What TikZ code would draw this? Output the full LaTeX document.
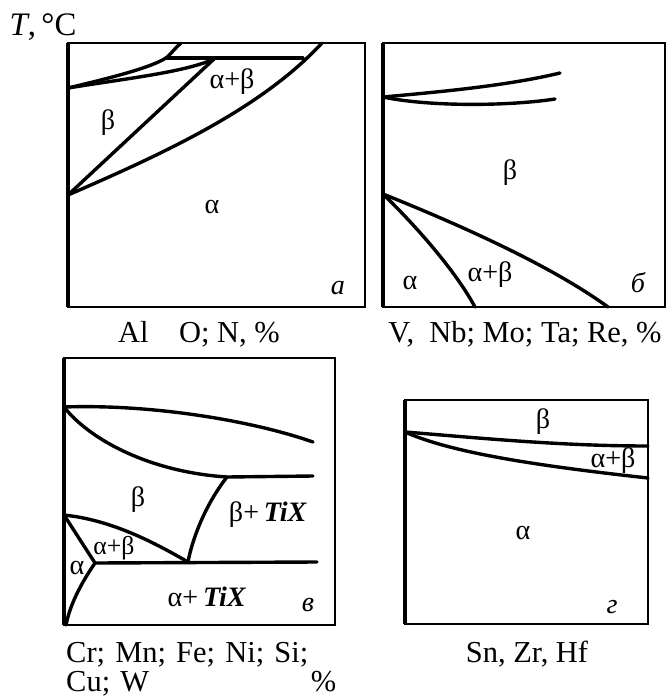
\documentclass[tikz,border=0pt]{standalone}
\usepackage{fontspec}
\setmainfont{Liberation Serif}
\usetikzlibrary{calc}

\begin{document}
\begin{tikzpicture}[
    x=0.03cm, y=-0.03cm,
    frame/.style={line width=2pt},
    axisline/.style={line width=3.4pt},
    phase/.style={line width=2.9pt, line cap=round, line join=round},
    lbl/.style={inner sep=0pt, font=\fontsize{24}{28}\selectfont},
    letter/.style={inner sep=0pt, font=\fontsize{24}{28}\selectfont\itshape},
    captxt/.style={inner sep=0pt, font=\fontsize{26}{23}\selectfont}
  ]
    \useasboundingbox (0,0) rectangle (672,697);

    % panel a
    \draw[frame] (68,43) rectangle (365,307);
    \draw[axisline] (68,43) -- (68,307);
    \coordinate (a1) at (68,88);
    \coordinate (a2) at (166,58);
    \coordinate (a3) at (214,59);
    \coordinate (a4) at (68,195);
    \coordinate (a5) at (303,58);
    \draw[phase] (a1) .. controls (110,78) and (150,68) .. (a2)
                      .. controls (172,53) and (176,47) .. (181,43);
    \draw[phase] (a2) -- (a5);
    \draw[phase] (a1) .. controls (130,78) and (185,72) .. (a3);
    \draw[phase] (a3) -- (a4);
    \draw[phase] (a4) .. controls (160,155) and (260,110) .. (322,43);
    \node[lbl] (ab) at (232,82) {α+β};
    \node[lbl] (b) at (108,123) {β};
    \node[lbl] (al) at (212,207) {α};
    \node[letter] (la) at (338,288) {а};
    \node[captxt] (ca) at (199,334) {Al\quad O; N, \%};
    \node[captxt, font=\fontsize{28}{30}\selectfont] (temp) at (43,27) {\textit{T},\,°C};

    % panel b
    \draw[frame] (383,43) rectangle (665,307);
    \draw[axisline] (383,43) -- (383,307);
    \coordinate (b1) at (383,97);
    \coordinate (b2) at (383,194);
    \draw[phase] (b1) .. controls (450,91) and (510,85) .. (560,73);
    \draw[phase] (b1) .. controls (430,107) and (510,106) .. (555,99);
    \draw[phase] (b2) .. controls (415,225) and (455,270) .. (475,307);
    \draw[phase] (b2) .. controls (460,225) and (550,265) .. (608,307);
    \node[lbl] (bb) at (510,173) {β};
    \node[lbl] (ba) at (410,283) {α};
    \node[lbl] (bab) at (490,275) {α+β};
    \node[letter] (lb) at (638,283) {б};
    \node[captxt] (cb) at (525,334) {V,\ \ Nb; Mo; Ta; Re, \%};

    % panel v
    \draw[frame] (64,358) rectangle (335,625);
    \draw[axisline] (64,358) -- (64,625);
    \coordinate (c1) at (64,407);
    \coordinate (c2) at (227,477);
    \coordinate (c3) at (188,562);
    \coordinate (c4) at (64,515);
    \coordinate (c5) at (95,563);
    \draw[phase] (c1) .. controls (150,404) and (250,420) .. (313,442);
    \draw[phase] (c1) .. controls (90,440) and (150,472) .. (c2) -- (313,476);
    \draw[phase] (c2) .. controls (205,505) and (192,540) .. (c3);
    \draw[phase] (c4) .. controls (110,520) and (150,540) .. (c3);
    \draw[phase] (c5) -- (317,562);
    \draw[phase] (c4) -- (c5);
    \draw[phase] (c5) .. controls (80,585) and (70,605) .. (66,625);
    \node[lbl] (vb) at (138,500) {β};
    \node[lbl] (vbt) at (268,515) {β+\,\textbf{\textit{TiX}}};
    \node[lbl, font=\fontsize{22}{26}\selectfont] (vab) at (114,548) {α+β};
    \node[lbl] (va) at (77,568) {α};
    \node[lbl] (vat) at (207,597) {α+\,\textbf{\textit{TiX}}};
    \node[letter] (lv) at (308,605) {в};
    \node[captxt, anchor=north west, text width=8.1cm, align=left] (cv) at (66,642)
      {Cr; Mn; Fe; Ni; Si;\\[2pt]Cu; W\hfill\%};

    % panel g
    \draw[frame] (405,400) rectangle (648,624);
    \draw[axisline] (405,400) -- (405,624);
    \coordinate (d1) at (405,432);
    \draw[phase] (d1) .. controls (480,438) and (560,446) .. (648,446);
    \draw[phase] (d1) .. controls (450,452) and (530,465) .. (648,478);
    \node[lbl] (gb) at (543,422) {β};
    \node[lbl] (gab) at (613,461) {α+β};
    \node[lbl] (ga) at (523,533) {α};
    \node[letter] (lg) at (612,607) {г};
    \node[captxt] (cg) at (527,654) {Sn, Zr, Hf};
  \end{tikzpicture}
\end{document}
